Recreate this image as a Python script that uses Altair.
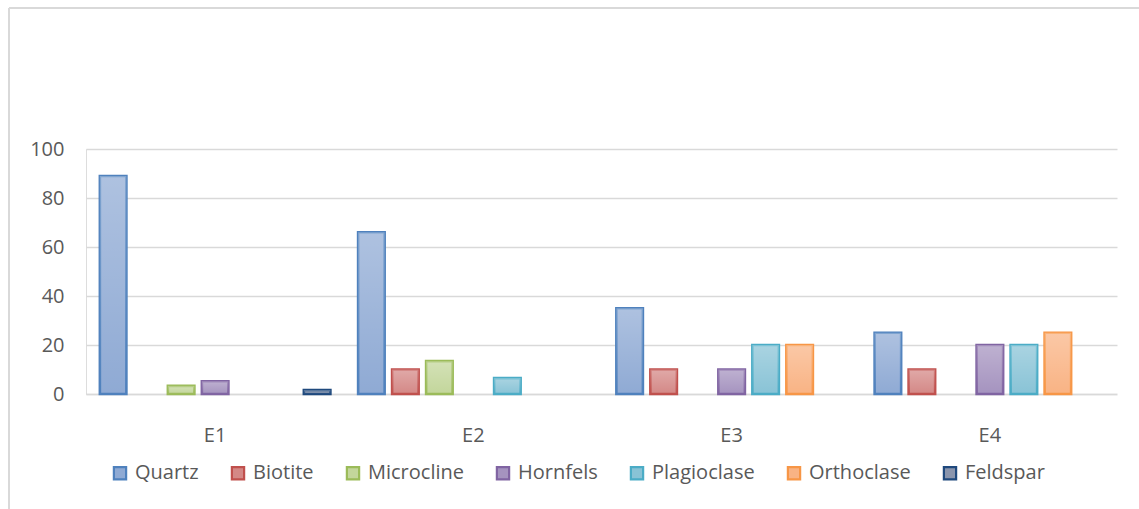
import altair as alt
import pandas as pd

categories = ["E1", "E2", "E3", "E4"]
series = ["Quartz", "Biotite", "Microcline", "Hornfels", "Plagioclase", "Orthoclase", "Feldspar"]

quartz = [89, 66, 35, 25]
biotite = [0, 10, 10, 10]
microcline = [3.3, 13.4, 0, 0]
hornfels = [5.2, 0, 10, 20]
plagioclase = [0, 6.5, 20, 20]
orthoclase = [0, 0, 20, 25]
feldspar = [1.6, 0, 0, 0]

fills = ["#8FAAD4", "#D48886", "#C3D69B", "#A593BF", "#89C3D6", "#F9B384", "#8A95AD"]
strokes = ["#4F81BD", "#C0504D", "#9BBB59", "#8064A2", "#4BACC6", "#F79646", "#1F497D"]

vals = [quartz, biotite, microcline, hornfels, plagioclase, orthoclase, feldspar]
rows = []
for s, v in zip(series, vals):
    for c, x in zip(categories, v):
        if x > 0:
            rows.append({"cat": c, "series": s, "value": x})
df = pd.DataFrame(rows)

FONT = "Open Sans"
GRAY = "#595959"

base = alt.Chart(df).encode(
    x=alt.X("cat:N", sort=categories, title=None,
            scale=alt.Scale(domain=categories, paddingInner=0, paddingOuter=0),
            axis=alt.Axis(labelAngle=0, ticks=False, tickSize=0, labelPadding=31,
                          domainColor="#D9D9D9", domainWidth=1.5, grid=False,
                          labelFont=FONT, labelFontSize=20, labelColor=GRAY)),
    xOffset=alt.XOffset("series:N", sort=series,
                        scale=alt.Scale(domain=series, paddingInner=0.22, paddingOuter=0.408)),
    y=alt.Y("value:Q", title=None,
            scale=alt.Scale(domain=[0, 100], nice=False),
            axis=alt.Axis(values=[0, 20, 40, 60, 80, 100], domain=False, ticks=False, tickSize=0,
                          labelPadding=22, grid=True, gridColor="#D9D9D9", gridWidth=1.5,
                          labelFont=FONT, labelFontSize=20, labelColor=GRAY)),
)

leg = alt.Legend(title=None, orient="none", direction="horizontal", legendX=24, legendY=314,
                 symbolType="square", symbolSize=150, symbolStrokeWidth=2.2,
                 labelFont=FONT, labelFontSize=20, labelColor=GRAY, labelOffset=5,
                 columnPadding=28, padding=0)

bars = base.mark_bar(strokeWidth=2.6).encode(
    fill=alt.Fill("series:N", sort=series, scale=alt.Scale(domain=series, range=fills), legend=leg),
    stroke=alt.Stroke("series:N", sort=series, scale=alt.Scale(domain=series, range=strokes), legend=leg),
)

overlay = base.mark_bar(
    fill=alt.Gradient(gradient="linear",
                      stops=[alt.GradientStop(color="rgba(255,255,255,0.28)", offset=0),
                             alt.GradientStop(color="rgba(255,255,255,0)", offset=1)],
                      x1=0, x2=0, y1=0, y2=1),
    strokeWidth=0,
)

one = pd.DataFrame({"a": [0]})
# decorative outer frame (top and left edges), placed in pixels
border_top = alt.Chart(one).mark_rule(color="#D9D9D9", strokeWidth=2).encode(
    x=alt.value(9 - 86), x2=alt.value(1139 - 86 + 10), y=alt.value(8 - 149))
border_left = alt.Chart(one).mark_rule(color="#D9D9D9", strokeWidth=2).encode(
    x=alt.value(9 - 86), y=alt.value(8 - 149), y2=alt.value(509 - 149 + 10))
# workaround: masks a faint vertical line of unknown origin at the plot's right edge
edge_cover = alt.Chart(one).mark_rule(color="white", strokeWidth=4).encode(
    x=alt.value(1033.5), y=alt.value(-3), y2=alt.value(248))

chart = alt.layer(border_top, border_left, bars, overlay, edge_cover).properties(
    width=1033, height=245,
    autosize=alt.AutoSizeParams(type="none"),
    padding={"left": 86, "top": 149, "right": 20, "bottom": 115},
).configure_view(stroke="transparent", strokeWidth=0
).configure(background="white")

chart.save("out.html", embed_options={"renderer": "svg", "actions": False})
